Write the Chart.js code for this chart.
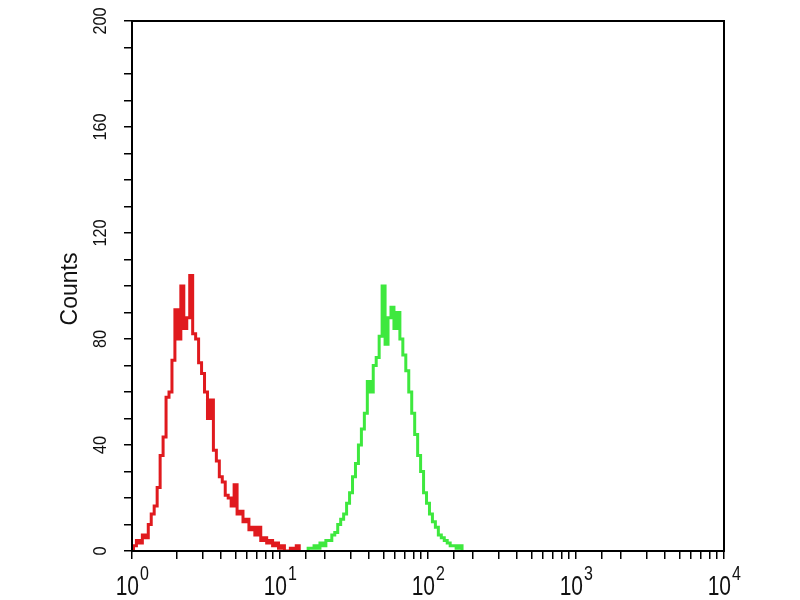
<!DOCTYPE html>
<html>
<head>
<meta charset="utf-8">
<script src="https://cdn.jsdelivr.net/npm/chart.js@4.4.0/dist/chart.umd.min.js"></script>
<style>
  html, body { margin: 0; padding: 0; background: #fff; }
  canvas { display: block; }
</style>
</head>
<body>
<canvas id="chart" width="800" height="600"></canvas>
<script>
// -------- data --------
const redX = [1.000, 1.047, 1.096, 1.148, 1.202, 1.259, 1.318, 1.380, 1.445, 1.514,
  1.585, 1.660, 1.738, 1.820, 1.905, 1.995, 2.089, 2.188, 2.291, 2.399,
  2.512, 2.630, 2.754, 2.884, 3.020, 3.162, 3.311, 3.467, 3.631, 3.802,
  3.981, 4.169, 4.365, 4.571, 4.786, 5.012, 5.248, 5.495, 5.754, 6.026,
  6.310, 6.607, 6.918, 7.244, 7.586, 7.943, 8.318, 8.710, 9.120, 9.550,
  10.00, 10.47, 10.96, 11.48, 12.02, 12.59, 13.18, 13.80];
const redCounts = [0, 2, 4, 3, 6, 5, 10, 14, 17, 24,
  36, 43, 58, 60, 72, 91, 80, 100, 84, 88,
  104, 82, 80, 71, 67, 60, 50, 57, 38, 34,
  28, 26, 21, 20, 17, 25, 14, 15, 11, 12,
  8, 9, 6, 9, 4, 5, 3, 4, 2, 3,
  1, 2, 0, 0, 1, 0, 2, 0];

const greenX = [15.14, 15.85, 16.60, 17.38, 18.20, 19.05, 19.95, 20.89, 21.88, 22.91,
  23.99, 25.12, 26.30, 27.54, 28.84, 30.20, 31.62, 33.11, 34.67, 36.31,
  38.02, 39.81, 41.69, 43.65, 45.71, 47.86, 50.12, 52.48, 54.95, 57.54,
  60.26, 63.10, 66.07, 69.18, 72.44, 75.86, 79.43, 83.18, 87.10, 91.20,
  95.50, 100.0, 104.7, 109.6, 114.8, 120.2, 125.9, 131.8, 138.0, 144.5,
  151.4, 158.5, 166.0, 173.8];
const greenCounts = [0, 1, 1, 2, 1, 3, 2, 4, 4, 6,
  7, 10, 12, 14, 18, 22, 28, 33, 40, 46,
  52, 64, 60, 70, 73, 81, 100, 78, 88, 92,
  84, 90, 80, 74, 68, 60, 52, 44, 36, 30,
  22, 18, 14, 11, 9, 6, 5, 4, 3, 2,
  2, 1, 2, 0];

const yLabels = [0, 40, 80, 120, 160, 200];
const xLabelValues = [1, 10, 100, 1000, 10000];
const xLabelExps = ["0", "1", "2", "3", "4"];
const yTitle = "Counts";

const FONT = "'Liberation Sans', Arial, sans-serif";
const pts = (xs, ys) => xs.map((x, i) => ({ x, y: ys[i] }));

// -------- box + labels drawn after the chart --------
const frame = {
  id: "frame",
  afterDraw(chart) {
    const { ctx, chartArea: a, scales } = chart;
    ctx.save();
    ctx.strokeStyle = "#000";
    ctx.lineWidth = 2;
    ctx.strokeRect(a.left, a.top, a.right - a.left, a.bottom - a.top);

    ctx.fillStyle = "#111";
    ctx.textAlign = "center";
    ctx.textBaseline = "middle";
    ctx.font = "18px " + FONT;
    for (const v of yLabels) {
      const py = scales.y.getPixelForValue(v);
      ctx.save();
      ctx.translate(101, py);
      ctx.rotate(-Math.PI / 2);
      ctx.scale(0.9, 1);
      ctx.fillText(String(v), 0, 0);
      ctx.restore();
    }
    ctx.save();
    ctx.font = "23px " + FONT;
    ctx.translate(71, 289);
    ctx.rotate(-Math.PI / 2);
    ctx.fillText(yTitle, 0, 0);
    ctx.restore();

    ctx.textBaseline = "alphabetic";
    xLabelValues.forEach((v, i) => {
      const px = scales.x.getPixelForValue(v);
      ctx.save();
      ctx.translate(px, 595);
      ctx.scale(1, 1.3);
      ctx.font = "21px " + FONT;
      ctx.textAlign = "right";
      ctx.fillText("10", 7, 0);
      ctx.restore();
      ctx.save();
      ctx.translate(px, 580);
      ctx.scale(1, 1.3);
      ctx.font = "16px " + FONT;
      ctx.textAlign = "left";
      ctx.fillText(xLabelExps[i], 8, 0);
      ctx.restore();
    });
    ctx.restore();
  }
};

const axisGrid = { display: true, drawOnChartArea: false, drawTicks: true, tickLength: 8, color: "#000", lineWidth: 1.5 };

new Chart(document.getElementById("chart"), {
  type: "line",
  data: {
    datasets: [
      { data: pts(redX, redCounts), borderColor: "#e01a1e", borderWidth: 3, pointRadius: 0, stepped: "middle" },
      { data: pts(greenX, greenCounts), borderColor: "#3ee83e", borderWidth: 3, pointRadius: 0, stepped: "middle" }
    ]
  },
  options: {
    responsive: false,
    animation: false,
    layout: { padding: { top: 21, right: 76, bottom: 0, left: 0 } },
    plugins: { legend: { display: false }, tooltip: { enabled: false } },
    scales: {
      x: {
        type: "logarithmic", min: 1, max: 10000,
        grid: axisGrid,
        border: { display: true, color: "#000", width: 2 },
        ticks: { display: false, autoSkip: false },
        afterFit: (s) => { s.height = 49; }
      },
      y: {
        min: 0, max: 200,
        grid: axisGrid,
        border: { display: true, color: "#000", width: 2 },
        ticks: { display: false, stepSize: 10 },
        afterFit: (s) => { s.width = 132; }
      }
    }
  },
  plugins: [frame]
});
</script>
</body>
</html>
